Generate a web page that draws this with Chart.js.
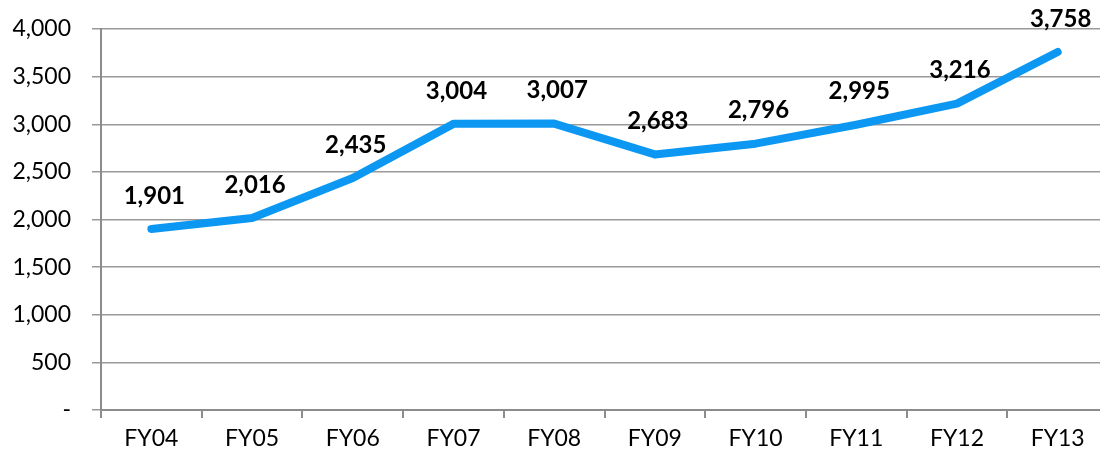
<!DOCTYPE html>
<html>
<head>
<meta charset="utf-8">
<script src="https://cdn.jsdelivr.net/npm/chart.js@4.4.1/dist/chart.umd.min.js"></script>
<style>
    html, body { margin: 0; padding: 0; background: #fff; overflow: hidden; }
    #wrap { width: 1110px; height: 457px; }
</style>
</head>
<body>
<div id="wrap"><canvas id="revChart"></canvas></div>
<script>
const categories = ['FY04', 'FY05', 'FY06', 'FY07', 'FY08', 'FY09', 'FY10', 'FY11', 'FY12', 'FY13'];
const revenue = [1901, 2016, 2435, 3004, 3007, 2683, 2796, 2995, 3216, 3758];
const yTicks = [0, 500, 1000, 1500, 2000, 2500, 3000, 3500, 4000];

const FONT = 'Lato, "Open Sans", sans-serif';

// draws the value above each point (no datalabels plugin available)
const valueLabels = {
    id: 'valueLabels',
    afterDatasetsDraw(chart) {
        const ctx = chart.ctx;
        const meta = chart.getDatasetMeta(0);
        ctx.save();
        ctx.font = 'bold 24px ' + FONT;
        ctx.fillStyle = '#000';
        ctx.textAlign = 'center';
        ctx.textBaseline = 'middle';
        meta.data.forEach(function(pt, i) {
            ctx.fillText(revenue[i].toLocaleString('en-US'), pt.x + 3, pt.y - 33);
        });
        ctx.restore();
    }
};

const ctx = document.getElementById('revChart').getContext('2d');
const revChart = new Chart(ctx, {
    type: 'line',
    data: {
        labels: categories,
        datasets: [{
            data: revenue,
            borderColor: '#0c98f2',
            borderWidth: 8,
            borderCapStyle: 'round',
            borderJoinStyle: 'round',
            pointRadius: 0,
            tension: 0,
            fill: false
        }]
    },
    options: {
        responsive: true,
        maintainAspectRatio: false,
        animation: false,
        layout: { padding: { top: 29, right: 2, left: 0, bottom: 0 } },
        plugins: {
            legend: { display: false },
            tooltip: { enabled: false }
        },
        scales: {
            x: {
                offset: true,
                grid: {
                    offset: true,
                    drawOnChartArea: false,
                    color: '#8c8c8c',
                    lineWidth: 2,
                    tickLength: 8
                },
                border: { color: '#8c8c8c', width: 2 },
                ticks: {
                    color: '#000',
                    font: { family: FONT, size: 23 },
                    padding: 7
                },
                afterFit: function(s) { s.height = 47; }
            },
            y: {
                min: 0,
                max: 4000,
                afterBuildTicks: function(s) {
                    s.ticks = yTicks.map(function(v) { return { value: v }; });
                },
                grid: {
                    color: '#999999',
                    lineWidth: 1.5,
                    tickLength: 9
                },
                border: { color: '#8c8c8c', width: 2 },
                ticks: {
                    color: '#000',
                    font: { family: FONT, size: 23 },
                    padding: 21,
                    callback: function(value) {
                        return value === 0 ? '-' : value.toLocaleString('en-US');
                    }
                },
                afterFit: function(s) {
                    s.width = 101;
                    // tick padding would otherwise push the plot top down
                    s.paddingTop = 0;
                    s.paddingBottom = 0;
                }
            }
        }
    },
    plugins: [valueLabels]
});
</script>
</body>
</html>
